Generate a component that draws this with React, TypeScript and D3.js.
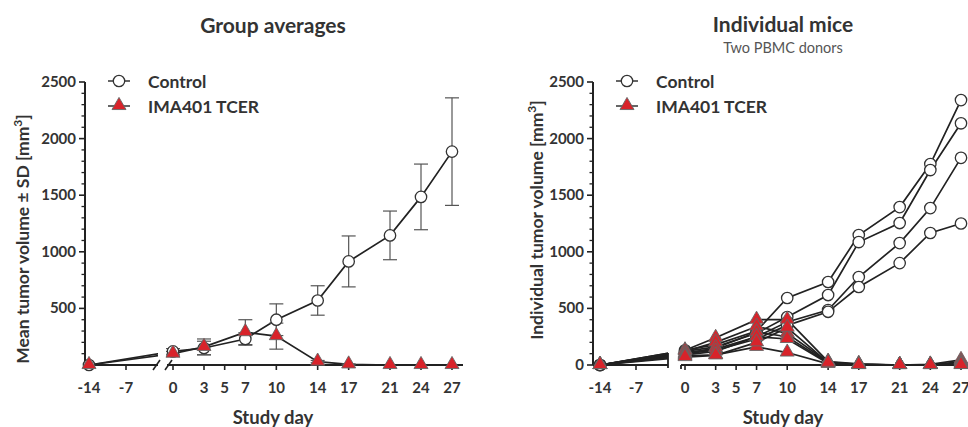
import React from "react";
import * as d3 from "d3";

// ---------- data ----------
const days = [-14, 0, 3, 7, 10, 14, 17, 21, 24, 27];
const seg1Ticks = [-14, -7];
const seg2Ticks = [0, 3, 5, 7, 10, 14, 17, 21, 24, 27];
const yMajorTicks = [0, 500, 1000, 1500, 2000, 2500];

// Group averages
const controlMean = [0, 120, 150, 230, 400, 570, 915, 1145, 1485, 1885];
const controlSD = [0, 25, 60, 55, 140, 130, 225, 215, 290, 475];
const tcerMean = [0, 100, 160, 290, 255, 30, 5, 0, 0, 0];
const tcerSD = [0, 20, 70, 110, 115, 10, 5, 0, 0, 0];

// Individual mice
const controlMouse1 = [0, 130, 180, 300, 592, 733, 1148, 1395, 1775, 2340];
const controlMouse2 = [0, 120, 160, 280, 424, 618, 1086, 1254, 1722, 2135];
const controlMouse3 = [0, 110, 140, 250, 380, 486, 777, 1077, 1386, 1830];
const controlMouse4 = [0, 100, 130, 230, 350, 470, 689, 900, 1166, 1250];
const tcerMouse1 = [0, 130, 240, 400, 400, 30, 10, 0, 5, 45];
const tcerMouse2 = [0, 120, 200, 340, 280, 25, 5, 0, 0, 30];
const tcerMouse3 = [0, 100, 150, 290, 250, 20, 5, 0, 0, 20];
const tcerMouse4 = [0, 90, 120, 250, 230, 15, 0, 0, 0, 10];
const tcerMouse5 = [0, 80, 90, 160, 110, 10, 0, 0, 0, 0];
const tcerMouse6 = [0, 70, 85, 200, 330, 20, 0, 0, 0, 0];

const controlMice = [controlMouse1, controlMouse2, controlMouse3, controlMouse4];
const tcerMice = [tcerMouse1, tcerMouse2, tcerMouse3, tcerMouse4, tcerMouse5, tcerMouse6];

const legendLabels = ["Control", "IMA401 TCER"];

const FONT = "Lato, 'Open Sans', sans-serif";
const TEXT = "#333";
const RED = "#d8232a";

type Cfg = {
  id: string;
  title: string;
  subtitle?: string;
  yLabel: string;
  yAxisX: number;
  s1Range: [number, number];
  s1End: number;
  s2Start: number;
  s2Range: [number, number];
  s2End: number;
  breakStyle: "slash" | "vertical";
  showZero: boolean;
  yLabelX: number;
  yLabelY: number;
  titleY: number;
  centerX: number;
};

function Circle({ cx, cy }: { cx: number; cy: number }) {
  return <circle cx={cx} cy={cy} r={5.7} fill="#fff" stroke="#333" strokeWidth={1.3} />;
}

const triPath = d3.symbol().type(d3.symbolTriangle).size(85)() as string;

function Tri({ cx, cy }: { cx: number; cy: number }) {
  return (
    <path d={triPath} transform={`translate(${cx},${cy - 0.5})`} fill={RED} stroke="#666" strokeWidth={0.9} />
  );
}

function Panel({ cfg, groups }: { cfg: Cfg; groups: { series: number[][]; sd?: number[][] }[] }) {
  const y = d3.scaleLinear().domain([0, 2500]).range([365, 82]);
  const xs1 = d3.scaleLinear().domain([-14, -7]).range(cfg.s1Range);
  const xs2 = d3.scaleLinear().domain([0, 27]).range(cfg.s2Range);
  const x = (d: number) => (d < 0 ? xs1(d) : xs2(d));
  const line = d3
    .line<[number, number]>()
    .x((p) => x(p[0]))
    .y((p) => y(p[1]));
  const y0 = y(0);
  const minor = d3.range(100, 2500, 100).filter((v) => v % 500 !== 0);
  const majors = cfg.showZero ? yMajorTicks : yMajorTicks.filter((v) => v > 0);
  const clipId = `clip-${cfg.id}`;
  const centerX = cfg.centerX;

  return (
    <g>
      <defs>
        <clipPath id={clipId}>
          <rect x={cfg.yAxisX - 20} y={60} width={cfg.s1End - cfg.yAxisX + 20} height={320} />
          <rect x={cfg.s2Start} y={60} width={cfg.s2End - cfg.s2Start + 20} height={320} />
        </clipPath>
      </defs>
      {/* titles */}
      <text x={centerX} y={cfg.titleY} textAnchor="middle" fontFamily={FONT} fontWeight={700} fontSize={21} fill={TEXT}>
        {cfg.title}
      </text>
      {cfg.subtitle && (
        <text x={centerX} y={53} textAnchor="middle" fontFamily={FONT} fontSize={14.5} fill="#555">
          {cfg.subtitle}
        </text>
      )}
      {/* y axis */}
      <line x1={cfg.yAxisX} x2={cfg.yAxisX} y1={y(2500)} y2={y0} stroke="#222" strokeWidth={2} />
      {majors.map((v) => (
        <g key={`M${v}`}>
          <line x1={cfg.yAxisX - 6} x2={cfg.yAxisX} y1={y(v)} y2={y(v)} stroke="#222" strokeWidth={1.6} />
          <text x={cfg.yAxisX - 9} y={y(v) + 5} textAnchor="end" fontFamily={FONT} fontWeight={700} fontSize={15} fill={TEXT}>
            {v}
          </text>
        </g>
      ))}
      {minor.map((v) => (
        <line key={`m${v}`} x1={cfg.yAxisX - 3.5} x2={cfg.yAxisX} y1={y(v)} y2={y(v)} stroke="#222" strokeWidth={1.3} />
      ))}
      <text
        transform={`translate(${cfg.yLabelX},${cfg.yLabelY}) rotate(-90)`}
        textAnchor="middle"
        fontFamily={FONT}
        fontWeight={700}
        fontSize={17.5}
        fill={TEXT}
      >
        {cfg.yLabel}
        <tspan baselineShift="super" fontSize={12}>3</tspan>]
      </text>
      {/* x axis */}
      <line x1={cfg.yAxisX} x2={cfg.s1End} y1={y0} y2={y0} stroke="#222" strokeWidth={2} />
      <line x1={cfg.s2Start} x2={cfg.s2End} y1={y0} y2={y0} stroke="#222" strokeWidth={2} />
      {cfg.breakStyle === "slash" ? (
        <g stroke="#222" strokeWidth={1.6}>
          <line x1={cfg.s1End - 5} x2={cfg.s1End + 2} y1={y0 + 5} y2={y0 - 5} />
          <line x1={cfg.s2Start - 2} x2={cfg.s2Start + 5} y1={y0 + 5} y2={y0 - 5} />
        </g>
      ) : (
        <g stroke="#222" strokeWidth={1.8}>
          <line x1={cfg.s1End} x2={cfg.s1End} y1={y0 - 12} y2={y0 + 3} />
          <line x1={cfg.s2Start} x2={cfg.s2Start} y1={y0} y2={y0 + 4} />
        </g>
      )}
      {seg1Ticks.map((t) => (
        <g key={`a${t}`}>
          <line x1={xs1(t)} x2={xs1(t)} y1={y0} y2={y0 + 5} stroke="#222" strokeWidth={1.6} />
          <text x={xs1(t)} y={y0 + 28} textAnchor="middle" fontFamily={FONT} fontWeight={700} fontSize={15} fill={TEXT}>
            {t}
          </text>
        </g>
      ))}
      {seg2Ticks.map((t) => (
        <g key={`b${t}`}>
          <line x1={xs2(t)} x2={xs2(t)} y1={y0} y2={y0 + 5} stroke="#222" strokeWidth={1.6} />
          <text x={xs2(t)} y={y0 + 28} textAnchor="middle" fontFamily={FONT} fontWeight={700} fontSize={15} fill={TEXT}>
            {t}
          </text>
        </g>
      ))}
      <text x={centerX} y={424} textAnchor="middle" fontFamily={FONT} fontWeight={700} fontSize={18.5} fill={TEXT}>
        Study day
      </text>
      {/* legend */}
      <g>
        <line x1={cfg.yAxisX + 23} x2={cfg.yAxisX + 45} y1={81} y2={81} stroke="#333" strokeWidth={1.5} />
        <Circle cx={cfg.yAxisX + 34} cy={81} />
        <text x={cfg.yAxisX + 63} y={87.5} fontFamily={FONT} fontWeight={700} fontSize={17.5} fill={TEXT}>
          {legendLabels[0]}
        </text>
        <line x1={cfg.yAxisX + 23} x2={cfg.yAxisX + 45} y1={106} y2={106} stroke="#333" strokeWidth={1.5} />
        <Tri cx={cfg.yAxisX + 34} cy={106} />
        <text x={cfg.yAxisX + 63} y={112.5} fontFamily={FONT} fontWeight={700} fontSize={17.5} fill={TEXT}>
          {legendLabels[1]}
        </text>
      </g>
      {/* data */}
      {groups.map((g, gi) => (
        <g key={gi}>
          <g clipPath={`url(#${clipId})`}>
            {g.series.map((s, si) => (
              <path
                key={si}
                d={line(days.map((d, i) => [d, s[i]] as [number, number])) as string}
                fill="none"
                stroke="#222"
                strokeWidth={1.7}
              />
            ))}
          </g>
          {g.sd &&
            g.series.map((s, si) =>
              days.map((d, i) => {
                const sd = g.sd![si][i];
                if (!sd) return null;
                const cx = x(d);
                return (
                  <g key={`e${si}-${i}`} stroke="#555" strokeWidth={1.2}>
                    <line x1={cx} x2={cx} y1={y(s[i] + sd)} y2={y(s[i] - sd)} />
                    <line x1={cx - 7} x2={cx + 7} y1={y(s[i] + sd)} y2={y(s[i] + sd)} />
                    <line x1={cx - 7} x2={cx + 7} y1={y(s[i] - sd)} y2={y(s[i] - sd)} />
                  </g>
                );
              })
            )}
        </g>
      ))}
      {groups.map((g, gi) =>
        g.series.map((s, si) =>
          days.map((d, i) =>
            gi === 0 ? (
              <Circle key={`c${gi}-${si}-${i}`} cx={x(d)} cy={y(s[i])} />
            ) : (
              <Tri key={`t${gi}-${si}-${i}`} cx={x(d)} cy={y(s[i])} />
            )
          )
        )
      )}
    </g>
  );
}

const leftCfg: Cfg = {
  id: "left",
  title: "Group averages",
  yLabel: "Mean tumor volume \u00b1 SD [mm",
  yAxisX: 85,
  s1Range: [89, 126],
  s1End: 158,
  s2Start: 167,
  s2Range: [173, 452],
  s2End: 463,
  breakStyle: "slash",
  showZero: false,
  yLabelX: 29,
  yLabelY: 239,
  titleY: 33,
  centerX: 273,
};

const rightCfg: Cfg = {
  id: "right",
  title: "Individual mice",
  subtitle: "Two PBMC donors",
  yLabel: "Individual tumor volume [mm",
  yAxisX: 593,
  s1Range: [600, 636],
  s1End: 668,
  s2Start: 681,
  s2Range: [685, 961],
  s2End: 968,
  breakStyle: "vertical",
  showZero: true,
  yLabelX: 543,
  yLabelY: 220,
  titleY: 32,
  centerX: 783,
};

export default function App() {
  return (
    <svg width={968} height={427} style={{ position: "absolute", left: 0, top: 0, background: "#fff" }}>
      <rect width={968} height={427} fill="#fff" />
      <Panel
        cfg={leftCfg}
        groups={[
          { series: [controlMean], sd: [controlSD] },
          { series: [tcerMean], sd: [tcerSD] },
        ]}
      />
      <Panel cfg={rightCfg} groups={[{ series: controlMice }, { series: tcerMice }]} />
    </svg>
  );
}
